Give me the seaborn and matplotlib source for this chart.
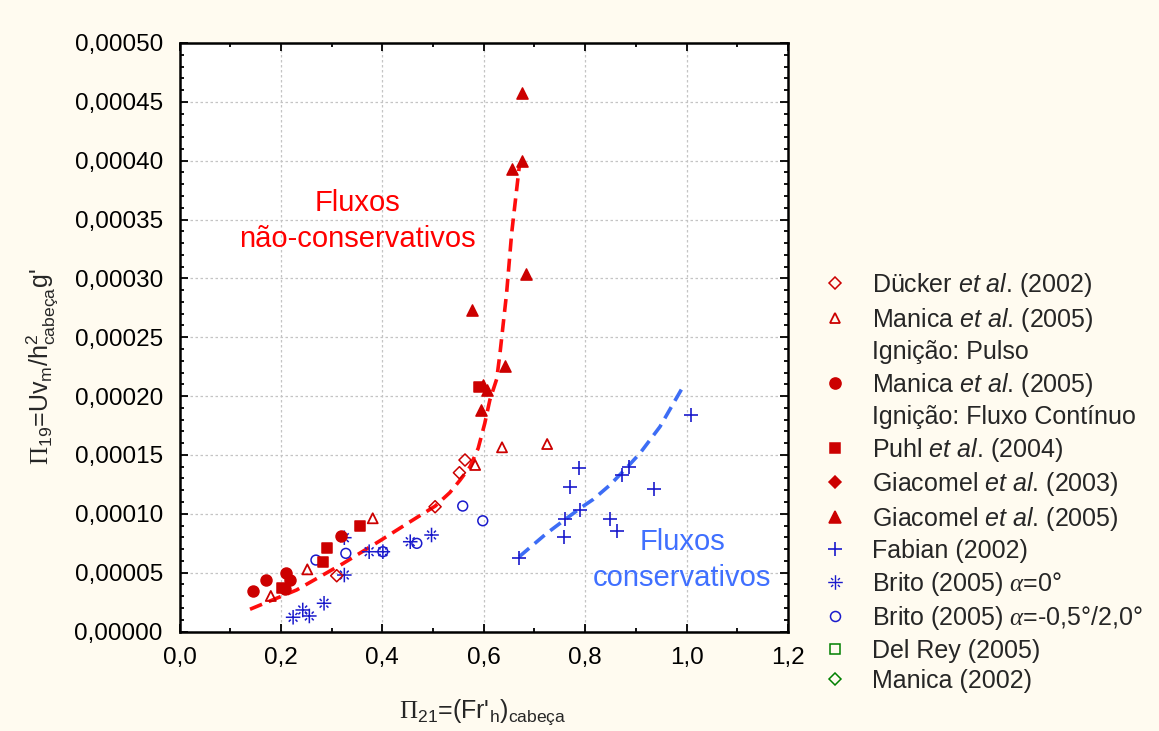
import matplotlib
matplotlib.use("Agg")
import matplotlib.pyplot as plt
import seaborn as sns
import numpy as np
from matplotlib.lines import Line2D
from matplotlib.path import Path
from matplotlib.ticker import MultipleLocator, FuncFormatter

# ---------------- data ----------------
ducker_x = [0.310, 0.504, 0.552, 0.563]
ducker_y = [4.74e-5, 1.06e-4, 1.349e-4, 1.457e-4]

manica_pulso_x = [0.180, 0.252, 0.381, 0.583, 0.636, 0.725]
manica_pulso_y = [3.02e-5, 5.28e-5, 9.62e-5, 1.415e-4, 1.565e-4, 1.593e-4]

manica_cont_x = [0.144, 0.171, 0.208, 0.210, 0.218, 0.318]
manica_cont_y = [3.42e-5, 4.38e-5, 3.59e-5, 4.94e-5, 4.38e-5, 8.15e-5]

puhl_x = [0.203, 0.282, 0.290, 0.356, 0.591]
puhl_y = [3.72e-5, 5.93e-5, 7.07e-5, 8.99e-5, 2.075e-4]

giacomel03_x = []
giacomel03_y = []

giacomel05_x = [0.577, 0.594, 0.599, 0.606, 0.642, 0.656, 0.676, 0.676, 0.684]
giacomel05_y = [2.731e-4, 1.882e-4, 2.094e-4, 2.05e-4, 2.256e-4, 3.927e-4, 3.997e-4, 4.573e-4, 3.037e-4]

fabian_x = [0.670, 0.758, 0.760, 0.770, 0.788, 0.790, 0.849, 0.862, 0.872, 0.887, 0.936, 1.008]
fabian_y = [6.22e-5, 8.0e-5, 9.53e-5, 1.225e-4, 1.387e-4, 1.032e-4, 9.53e-5, 8.54e-5, 1.33e-4, 1.40e-4, 1.208e-4, 1.839e-4]

brito0_x = [0.224, 0.243, 0.256, 0.285, 0.325, 0.325, 0.374, 0.401, 0.455, 0.497]
brito0_y = [1.21e-5, 1.83e-5, 1.32e-5, 2.40e-5, 4.80e-5, 7.97e-5, 6.78e-5, 6.78e-5, 7.63e-5, 8.2e-5]

brito_inc_x = [0.269, 0.328, 0.401, 0.468, 0.5585, 0.598]
brito_inc_y = [6.07e-5, 6.64e-5, 6.78e-5, 7.49e-5, 1.066e-4, 9.41e-5]

delrey_x = []
delrey_y = []
manica02_x = []
manica02_y = []

red_fit_x = [0.139, 0.231, 0.323, 0.395, 0.450, 0.504, 0.533, 0.553, 0.573, 0.589,
             0.602, 0.612, 0.6255, 0.632, 0.645, 0.655, 0.664, 0.670]
red_fit_y = [1.89e-5, 3.53e-5, 5.79e-5, 7.7e-5, 9.2e-5, 1.065e-4, 1.18e-4, 1.285e-4, 1.40e-4, 1.557e-4,
             1.769e-4, 1.967e-4, 2.145e-4, 2.364e-4, 2.873e-4, 3.383e-4, 3.723e-4, 3.949e-4]

blue_fit_x = [0.670, 0.724, 0.790, 0.816, 0.849, 0.885, 0.908, 0.9475, 0.990]
blue_fit_y = [6.36e-5, 8.34e-5, 1.047e-4, 1.123e-4, 1.245e-4, 1.406e-4, 1.514e-4, 1.74e-4, 2.058e-4]

x_ticks = [0.0, 0.2, 0.4, 0.6, 0.8, 1.0, 1.2]
y_ticks = [0.0, 0.00005, 0.0001, 0.00015, 0.0002, 0.00025, 0.0003, 0.00035, 0.0004, 0.00045, 0.0005]

# ---------------- style ----------------
sns.set_style("ticks")
plt.rcParams['font.family'] = ['Liberation Sans', 'DejaVu Sans']
plt.rcParams['mathtext.fontset'] = 'custom'
plt.rcParams['mathtext.rm'] = 'Liberation Serif'
plt.rcParams['mathtext.sf'] = 'Liberation Sans'
plt.rcParams['mathtext.it'] = 'Liberation Sans:italic'
plt.rcParams['mathtext.bf'] = 'Liberation Sans:bold'
plt.rcParams['mathtext.cal'] = 'Liberation Serif:italic'

BG = '#fffbf0'
RED = '#cc0000'
BLUE = '#1a1acc'
GREEN = '#008000'

# asterisk-like marker: full cross plus short broken diagonal ticks
_d = np.sqrt(0.5)
_verts = [(0, -1), (0, 1), (-1, 0), (1, 0)]
_codes = [Path.MOVETO, Path.LINETO, Path.MOVETO, Path.LINETO]
for sx, sy in [(1, 1), (-1, 1), (-1, -1), (1, -1)]:
    _verts += [(sx * _d * 0.45, sy * _d * 0.45), (sx * _d * 0.85, sy * _d * 0.85)]
    _codes += [Path.MOVETO, Path.LINETO]
ASTER = Path(_verts, _codes)

fig = plt.figure(figsize=(11.59, 7.31), dpi=100, facecolor=BG)
ax = fig.add_axes([0.1549, 0.1361, 0.6799 - 0.1549, 0.9412 - 0.1361])
ax.set_facecolor('white')


def scat(x, y, marker, color, s, open_=False, lw=1.1):
    if len(x) == 0:
        return
    sns.scatterplot(x=x, y=y, ax=ax, marker=marker, color=color, s=s,
                    edgecolor=color, linewidth=lw, zorder=3)
    coll = ax.collections[-1]
    if open_:
        coll.set_facecolor('none')
    coll.set_edgecolor(color)


# fitted curves
sns.lineplot(x=red_fit_x, y=red_fit_y, ax=ax, sort=False, estimator=None,
             color='#ff0d0d', linewidth=2.6, zorder=2)
ax.lines[-1].set_dashes((3.6, 2.0))
sns.lineplot(x=blue_fit_x, y=blue_fit_y, ax=ax, sort=False, estimator=None,
             color='#3d6df5', linewidth=2.6, zorder=2)
ax.lines[-1].set_dashes((3.6, 2.0))

# points
scat(brito0_x, brito0_y, ASTER, BLUE, 110, open_=True, lw=1.1)
scat(brito_inc_x, brito_inc_y, 'o', BLUE, 50, open_=True, lw=1.1)
scat(fabian_x, fabian_y, '+', BLUE, 100, lw=1.2)
scat(manica_cont_x, manica_cont_y, 'o', RED, 62)
scat(puhl_x, puhl_y, 's', RED, 52)
scat(giacomel03_x, giacomel03_y, 'D', RED, 40)
scat(giacomel05_x, giacomel05_y, '^', RED, 64)
scat(manica_pulso_x, manica_pulso_y, '^', RED, 52, open_=True, lw=1.3)
scat(ducker_x, ducker_y, 'D', RED, 38, open_=True, lw=1.1)
scat(delrey_x, delrey_y, 's', GREEN, 45, open_=True)
scat(manica02_x, manica02_y, 'D', GREEN, 38, open_=True)

# axes
ax.set_xlim(0, 1.2)
ax.set_ylim(0, 0.0005)
ax.set_xticks(x_ticks)
ax.set_yticks(y_ticks)
ax.xaxis.set_minor_locator(MultipleLocator(0.1))
ax.yaxis.set_minor_locator(MultipleLocator(0.00001))
ax.xaxis.set_major_formatter(FuncFormatter(lambda v, p: f"{v:.1f}".replace('.', ',')))
ax.yaxis.set_major_formatter(FuncFormatter(lambda v, p: f"{abs(v):.5f}".replace('.', ',')))
ax.tick_params(which='both', direction='in', top=True, right=True, colors='black',
               labelsize=17.5, width=1.3)
ax.tick_params(which='major', length=5.5)
ax.tick_params(which='minor', length=2.8)
ax.tick_params(axis='y', pad=12)
ax.tick_params(axis='x', pad=11)
for sp in ax.spines.values():
    sp.set_linewidth(1.8)
    sp.set_color('black')
    sp.set_visible(True)

ax.grid(True, which='major', color='#c4c4c4', linestyle=(0, (2, 2)), linewidth=0.9)
ax.set_axisbelow(True)

ax.set_xlabel(r"$\mathrm{\Pi}_{\mathsf{21}}$=(Fr'$\mathsf{_h}$)$\mathsf{_{cabeça}}$", fontsize=18)
ax.set_ylabel(r"$\mathrm{\Pi}_{\mathsf{19}}$=U$\mathsf{v_m}$/$\mathsf{h^2_{cabeça}}$g'", fontsize=18)
ax.xaxis.label.set_va('center')
ax.yaxis.label.set_va('center')
ax.xaxis.set_label_coords(0.499, -0.137)
ax.yaxis.set_label_coords(-0.226, 0.45)

# annotations
ax.text(0.350, 3.49e-4, "Fluxos\nnão-conservativos", color='#ff0000', fontsize=21,
        ha='center', va='center', linespacing=1.38, multialignment='center')
ax.text(0.991, 6.1e-5, "Fluxos\nconservativos", color='#4070ff', fontsize=21,
        ha='center', va='center', linespacing=1.35, multialignment='center')

# legend
def h(marker, color, ms, filled, mew=1.1):
    return Line2D([], [], linestyle='none', marker=marker, markersize=ms,
                  markerfacecolor=color if filled else 'none',
                  markeredgecolor=color, markeredgewidth=mew, color=color)

blank = Line2D([], [], linestyle='none', marker=None)
handles = [
    h('D', RED, 6.5, False),
    h('^', RED, 7.2, False, 1.3),
    blank,
    h('o', RED, 8.0, True),
    blank,
    h('s', RED, 7.5, True),
    h('D', RED, 6.5, True),
    h('^', RED, 8.0, True),
    h('+', BLUE, 10.5, True, 1.2),
    h(ASTER, BLUE, 10.5, False, 1.0),
    h('o', BLUE, 7.2, False),
    h('s', GREEN, 7.2, False),
    h('D', GREEN, 6.5, False),
]
labels = [
    r"Dücker $\mathit{et\ al}$. (2002)",
    r"Manica $\mathit{et\ al}$. (2005)",
    "Ignição: Pulso",
    r"Manica $\mathit{et\ al}$. (2005)",
    "Ignição: Fluxo Contínuo",
    r"Puhl $\mathit{et\ al}$. (2004)",
    r"Giacomel $\mathit{et\ al}$. (2003)",
    r"Giacomel $\mathit{et\ al}$. (2005)",
    "Fabian (2002)",
    r"Brito (2005) $\mathcal{\alpha}$=0°",
    r"Brito (2005) $\mathcal{\alpha}$=-0,5°/2,0°",
    "Del Rey (2005)",
    "Manica (2002)",
]
leg = ax.legend(handles, labels, loc='center left', bbox_to_anchor=(0.7097, 0.3406),
                bbox_transform=fig.transFigure, frameon=False, fontsize=18,
                handlelength=1.0, handletextpad=0.98, borderpad=0, borderaxespad=0,
                labelspacing=0.26)

fig.savefig("out.png", dpi=100, facecolor=BG)
